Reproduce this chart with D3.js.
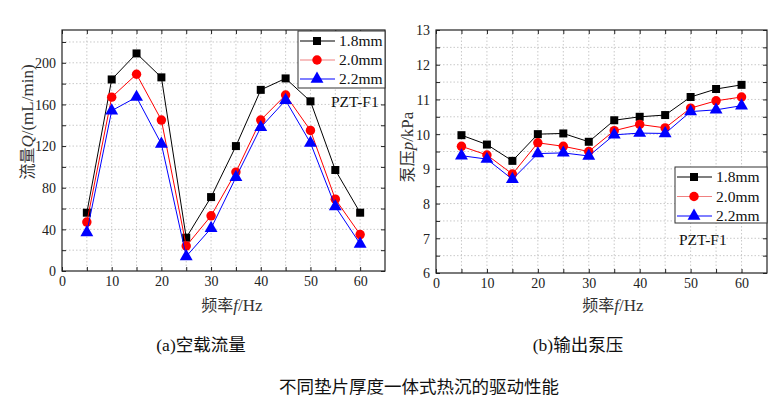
<!DOCTYPE html>
<html>
<head>
<meta charset="utf-8">
<script src="https://cdn.jsdelivr.net/npm/d3@7"></script>
<style>
  body { margin: 0; background: #fff; }
  svg { display: block; }
  .tick-lbl { font-family: "Liberation Serif", "DejaVu Serif", serif; font-size: 14px; fill: #222; }
  .leg-lbl { font-family: "Liberation Serif", serif; font-size: 15.5px; fill: #111; }
  .ttl { font-family: "Noto Sans CJK SC", sans-serif; font-size: 16px; fill: #333; }
  .cap { font-family: "Liberation Serif", "Noto Sans CJK SC", serif; font-size: 17.5px; fill: #111; }
</style>
</head>
<body>
<svg id="chart" width="779" height="398"></svg>
<script>
// frequencies (Hz)
const freqs = [5, 10, 15, 20, 25, 30, 35, 40, 45, 50, 55, 60];
const seriesNames = ['1.8mm', '2.0mm', '2.2mm'];

// (a) no-load flow, mL/min
const flow18 = [56, 184, 209, 186, 32, 71, 120, 174, 185, 163, 97, 56];
const flow20 = [47, 167, 189, 145, 24, 53, 95, 145, 169, 135, 69, 35];
const flow22 = [37, 154, 167, 122, 14, 41, 90, 138, 164, 123, 62, 26];

// (b) pump pressure, kPa
const pres18 = [9.97, 9.70, 9.23, 10.00, 10.02, 9.78, 10.40, 10.50, 10.55, 11.07, 11.30, 11.42];
const pres20 = [9.65, 9.40, 8.85, 9.75, 9.65, 9.50, 10.10, 10.28, 10.18, 10.75, 10.96, 11.07];
const pres22 = [9.38, 9.28, 8.70, 9.44, 9.46, 9.37, 9.98, 10.03, 10.02, 10.65, 10.70, 10.82];

const xTicks = [0, 10, 20, 30, 40, 50, 60];
const flowTicks = [0, 40, 80, 120, 160, 200];
const presTicks = [6, 7, 8, 9, 10, 11, 12, 13];

const colors = ['#000000', '#ff0000', '#0000ff'];
const legendLine = ['#000000', '#f08080', '#0000ff'];
const symbols = [d3.symbolSquare, d3.symbolCircle, d3.symbolTriangle];
const symSize = [64, 70, 72];

const svg = d3.select('#chart');

function drawPanel(p) {
  const x = d3.scaleLinear().domain([0, 65]).range([p.left, p.right]);
  const y = d3.scaleLinear().domain(p.yDomain).range([p.bottom, p.top]);
  const g = svg.append('g');

  // dotted grid at minor steps
  const xMinor = d3.range(5, 65, 5);
  const yMinor = d3.range(p.yDomain[0] + p.yMinorStep, p.yDomain[1] - 1e-6, p.yMinorStep);
  g.selectAll('.gx').data(xMinor).enter().append('line')
    .attr('x1', d => x(d)).attr('x2', d => x(d))
    .attr('y1', p.top).attr('y2', p.bottom)
    .attr('stroke', '#bbb').attr('stroke-width', 0.8).attr('stroke-dasharray', '1.5,2');
  g.selectAll('.gy').data(yMinor).enter().append('line')
    .attr('x1', p.left).attr('x2', p.right)
    .attr('y1', d => y(d)).attr('y2', d => y(d))
    .attr('stroke', '#bbb').attr('stroke-width', 0.8).attr('stroke-dasharray', '1.5,2');

  // axes with inward ticks
  const xMajorAll = d3.range(0, 61, 5);
  const yAll = d3.range(p.yDomain[0], p.yDomain[1] + 1e-6, p.yMinorStep);
  const bottomAx = d3.axisBottom(x).tickValues(xMajorAll).tickSizeInner(-4).tickSizeOuter(0)
    .tickFormat(d => xTicks.includes(d) ? d : '');
  const leftAx = d3.axisLeft(y).tickValues(yAll)
    .tickSizeInner(-4).tickSizeOuter(0)
    .tickFormat(d => p.yTicks.some(t => Math.abs(t - d) < 1e-6) ? d : '');

  const bx = g.append('g').attr('transform', `translate(0,${p.bottom})`).call(bottomAx);
  bx.selectAll('text').attr('class', 'tick-lbl').attr('y', 2).attr('dy', '0.95em');
  const ly = g.append('g').attr('transform', `translate(${p.left},0)`).call(leftAx);
  ly.selectAll('text').attr('class', 'tick-lbl').attr('dy', '0.35em').attr('x', -6);
  // mirrored ticks top / right
  g.append('g').attr('transform', `translate(0,${p.top})`)
    .call(d3.axisTop(x).tickValues(xMajorAll).tickSizeInner(-4).tickSizeOuter(0).tickFormat(''));
  g.append('g').attr('transform', `translate(${p.right},0)`)
    .call(d3.axisRight(y).tickValues(yAll).tickSizeInner(-4).tickSizeOuter(0).tickFormat(''));
  g.selectAll('.domain').remove();
  g.selectAll('.tick line').attr('stroke', '#222');

  g.append('rect')
    .attr('x', p.left).attr('y', p.top)
    .attr('width', p.right - p.left).attr('height', p.bottom - p.top)
    .attr('fill', 'none').attr('stroke', '#222').attr('stroke-width', 1.2);

  // series
  const line = d3.line().x(d => x(d[0])).y(d => y(d[1]));
  p.series.forEach((vals, i) => {
    const pts = freqs.map((f, j) => [f, vals[j]]);
    g.append('path').datum(pts)
      .attr('d', line).attr('fill', 'none')
      .attr('stroke', colors[i]).attr('stroke-width', 1);
    g.selectAll('.m' + i).data(pts).enter().append('path')
      .attr('transform', d => `translate(${x(d[0])},${y(d[1])})`)
      .attr('d', d3.symbol().type(symbols[i]).size(symSize[i]))
      .attr('fill', colors[i]);
  });

  // legend
  const L = p.legend;
  g.append('rect').attr('x', L.x).attr('y', L.y).attr('width', L.w).attr('height', L.h)
    .attr('fill', '#fff').attr('stroke', '#333').attr('stroke-width', 1);
  seriesNames.forEach((name, i) => {
    const yy = L.y + 10 + i * L.step;
    g.append('line').attr('x1', L.x + 2).attr('x2', L.x + 37).attr('y1', yy).attr('y2', yy)
      .attr('stroke', legendLine[i]).attr('stroke-width', 1.2);
    g.append('path').attr('transform', `translate(${L.x + 19},${yy})`)
      .attr('d', d3.symbol().type(symbols[i]).size(symSize[i])).attr('fill', colors[i]);
    g.append('text').attr('class', 'leg-lbl').attr('x', L.x + 41).attr('y', yy).attr('dy', '0.35em').text(name);
  });
  g.append('text').attr('class', 'leg-lbl').attr('x', p.tag[0]).attr('y', p.tag[1]).attr('dy', '0.35em').text('PZT-F1');

  // axis titles
  const xt = g.append('text').attr('class', 'ttl').attr('x', p.xTitle[0]).attr('y', p.xTitle[1])
    .attr('text-anchor', 'middle').attr('dy', '0.35em');
  xt.append('tspan').text('频率');
  xt.append('tspan').attr('font-family', 'Liberation Serif').attr('font-style', 'italic').attr('font-size', 17).text('f');
  xt.append('tspan').attr('font-family', 'Liberation Serif').attr('font-size', 17).text('/Hz');

  const yt = g.append('text').attr('class', 'ttl')
    .attr('transform', `translate(${p.yTitle[0]},${p.yTitle[1]}) rotate(-90)`)
    .attr('text-anchor', 'middle').attr('dy', '0.35em');
  yt.append('tspan').text(p.yLabel[0]);
  yt.append('tspan').attr('font-family', 'Liberation Serif').attr('font-style', 'italic').attr('font-size', 17).text(p.yLabel[1]);
  yt.append('tspan').attr('font-family', 'Liberation Serif').attr('font-size', 17).text(p.yLabel[2]);

  svg.append('text').attr('class', 'cap').attr('x', p.cap[0]).attr('y', p.cap[1])
    .attr('text-anchor', 'middle').attr('dy', '0.35em').text(p.cap[2]);
}

drawPanel({
  left: 62, right: 385, top: 30, bottom: 271,
  yDomain: [0, 231.5], yMinorStep: 20, yTicks: flowTicks,
  series: [flow18, flow20, flow22],
  legend: { x: 298, y: 31, w: 87, h: 57, step: 19 },
  tag: [331, 102],
  xTitle: [232, 305], yTitle: [27, 122], yLabel: ['流量', 'Q', '/(mL/min)'],
  cap: [201, 345, '(a)空载流量']
});

drawPanel({
  left: 436, right: 767, top: 30, bottom: 273,
  yDomain: [6, 13], yMinorStep: 0.5, yTicks: presTicks,
  series: [pres18, pres20, pres22],
  legend: { x: 675, y: 167, w: 92, h: 56, step: 19.5 },
  tag: [679, 240],
  xTitle: [613, 305], yTitle: [407, 147], yLabel: ['泵压', 'p', '/kPa'],
  cap: [578, 345, '(b)输出泵压']
});

svg.append('text').attr('class', 'cap').attr('x', 419).attr('y', 387)
  .attr('text-anchor', 'middle').attr('dy', '0.35em').text('不同垫片厚度一体式热沉的驱动性能');
</script>
</body>
</html>
